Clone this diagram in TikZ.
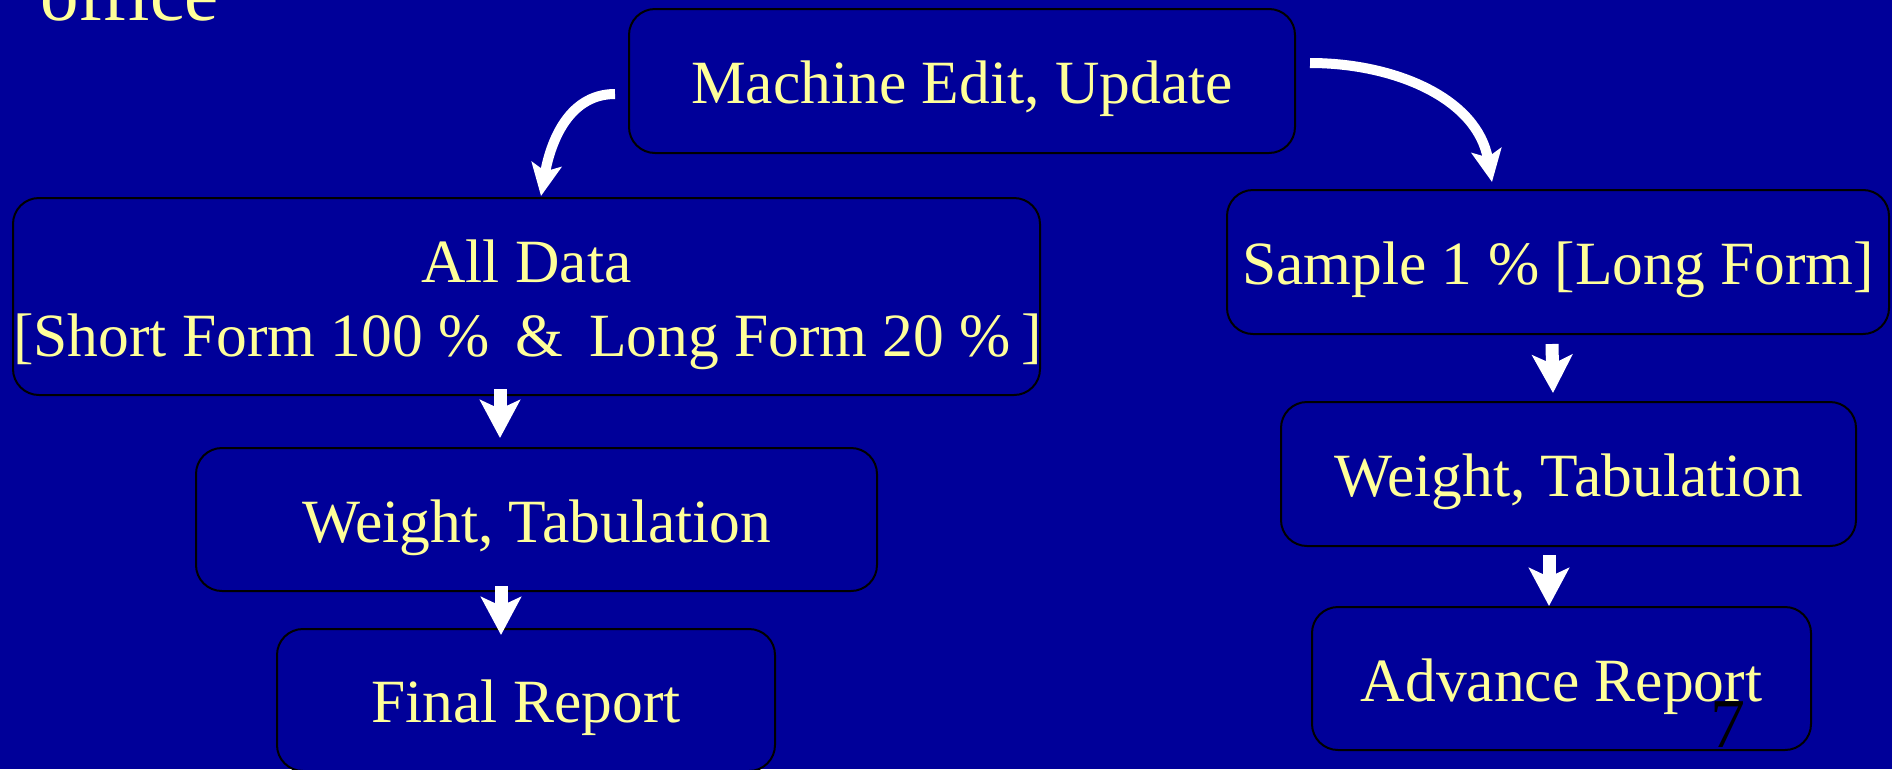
\documentclass[tikz,border=0pt]{standalone}
\usepackage{fontspec}
\setmainfont{Liberation Serif}
\usetikzlibrary{arrows.meta}
\definecolor{bgblue}{RGB}{0,0,153}
\definecolor{txtyellow}{RGB}{255,255,153}
\tikzset{
  stagebox/.style={draw=black, line width=2pt, rounded corners=26pt, fill=bgblue,
    inner sep=0pt, text=txtyellow, font=\fontsize{61.5}{74}\selectfont,
    text height=48pt, text depth=3pt},
  txt/.style={inner sep=0pt, text=txtyellow, font=\fontsize{61.5}{74}\selectfont},
  downarrow/.style={draw=white, line width=13pt, -{Stealth[length=38pt,width=40pt,inset=9pt]}},
  curvearrow/.style={draw=white, line width=10pt, -{Stealth[length=32pt,width=30pt,inset=7pt]}}
}
\begin{document}
\begin{tikzpicture}[x=1pt,y=1pt]
\useasboundingbox (0,0) rectangle (1892,-769);
\fill[bgblue] (0,0) rectangle (1892,-769);

\node[txt, anchor=base west, font=\fontsize{77}{80}\selectfont] (title) at (40,-20) {office};

\node[stagebox, minimum width=666pt, minimum height=144pt] (machine) at (962,-81) {Machine Edit, Update};
\node[stagebox, minimum width=662pt, minimum height=144pt] (sample) at (1558,-262) {Sample 1 \% [Long Form]};
\node[stagebox, minimum width=575pt, minimum height=144pt] (weightR) at (1568.5,-474) {Weight, Tabulation};
\node[stagebox, minimum width=499pt, minimum height=143pt] (advance) at (1561.5,-678.5) {Advance Report};
\node[stagebox, minimum width=1027pt, minimum height=197pt] (alldata) at (526.5,-296.5) {};
\node[txt, anchor=base] (alldataA) at ([yshift=14.5pt]alldata.center) {All Data};
\node[txt, anchor=base] (alldataB) at ([xshift=1pt,yshift=-59.5pt]alldata.center) {[Short Form 100 \%\hspace{0.42em}\&\hspace{0.42em}Long Form 20 \%\hspace{0.17em}]};
\node[stagebox, minimum width=681pt, minimum height=143pt] (weightL) at (536.5,-519.5) {Weight, Tabulation};
\node[stagebox, minimum width=498pt, minimum height=142pt] (final) at (526,-700) {Final Report};

\node[anchor=base west, inner sep=0pt, text=black, font=\fontsize{70}{80}\selectfont] (pagenum) at (1710,-747) {7};

\draw[curvearrow] ([xshift=-13pt,yshift=-13pt]machine.west) to[out=180,in=80] ([xshift=14.5pt,yshift=1pt]alldata.north);
\draw[curvearrow] ([xshift=14pt,yshift=18pt]machine.east) to[out=0,in=100] ([xshift=-66pt,yshift=7pt]sample.north);

\draw[downarrow] ([xshift=-26.5pt,yshift=7pt]alldata.south) -- ([xshift=-36.5pt,yshift=9pt]weightL.north);
\draw[downarrow] ([xshift=-35.5pt,yshift=6pt]weightL.south) -- ([xshift=-25pt,yshift=-7pt]final.north);
\draw[downarrow] ([xshift=-6pt,yshift=-9pt]sample.south) -- ([xshift=-15.5pt,yshift=8pt]weightR.north);
\draw[downarrow] ([xshift=-19.5pt,yshift=-8pt]weightR.south) -- ([xshift=-12.5pt,yshift=0pt]advance.north);
\end{tikzpicture}
\end{document}
